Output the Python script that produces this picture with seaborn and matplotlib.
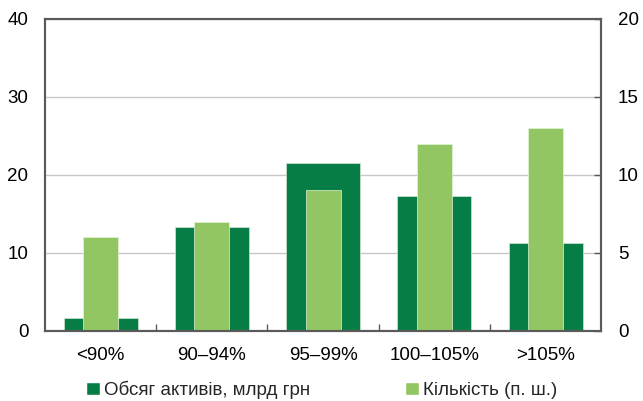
import numpy as np
import pandas as pd
import matplotlib
matplotlib.use("Agg")
import matplotlib.pyplot as plt
import seaborn as sns
from matplotlib.patches import Patch

sns.set_theme(style="white")
plt.rcParams["font.family"] = ["Liberation Sans", "DejaVu Sans"]

CATEGORIES = ["<90%", "90–94%", "95–99%", "100–105%", ">105%"]
ASSETS     = [1.7, 13.3, 21.5, 17.3, 11.3]   # left axis, bn UAH
COUNT      = [6, 7, 9, 12, 13]               # right axis, units
ASSETS_LABEL = "Обсяг активів, млрд грн"
COUNT_LABEL  = "Кількість (п. ш.)"

DARK, LIGHT = "#077D46", "#92C663"
SPINE = "#5a5a5a"

df = pd.DataFrame({"cat": CATEGORIES, "assets": ASSETS, "count": COUNT})

fig = plt.figure(figsize=(6.43, 4.01), dpi=100)
ax = fig.add_axes([0.070, 0.175, 0.865, 0.778])
ax2 = ax.twinx()

sns.barplot(data=df, x="cat", y="assets", color=DARK, width=0.665,
            edgecolor="#cfe6d0", linewidth=0.5, saturation=1, ax=ax)
sns.barplot(data=df, x="cat", y="count", color=LIGHT, width=0.315,
            edgecolor="#e4f1d8", linewidth=0.5, saturation=1, ax=ax2)

ax.set_xlim(-0.5, 4.5)
ax.set_ylim(0, 40)
ax2.set_ylim(0, 20)
ax.set_yticks([0, 10, 20, 30, 40])
ax2.set_yticks([0, 5, 10, 15, 20])
ax.set_axisbelow(True)
ax.yaxis.grid(True, color="#c8c8c8", lw=1)
ax.xaxis.grid(False)
ax.set(xlabel="", ylabel="")
ax2.set(xlabel="", ylabel="")

for a in (ax, ax2):
    for s in a.spines.values():
        s.set_color(SPINE)
        s.set_linewidth(1.5)

ax.tick_params(axis="y", length=0, pad=12, labelsize=13.5, labelcolor="black")
ax2.tick_params(axis="y", direction="in", length=5, width=1, color=SPINE,
                pad=12, labelsize=13.5, labelcolor="black")
ax.tick_params(axis="x", which="major", length=0, pad=12, labelsize=13.5,
               labelcolor="black")
ax.set_xticks(np.arange(0.5, 4.5, 1), minor=True)
ax.tick_params(axis="x", which="minor", direction="in", length=5, width=1,
               color=SPINE, bottom=True)

handles = [Patch(facecolor=DARK, label=ASSETS_LABEL),
           Patch(facecolor=LIGHT, label=COUNT_LABEL)]
fig.legend(handles=handles, loc="center", bbox_to_anchor=(0.5, 0.028), ncol=2,
           frameon=False, fontsize=13.5, handlelength=0.75, handleheight=0.75,
           handletextpad=0.2, columnspacing=5.1, borderaxespad=0)

fig.savefig("out.png", dpi=100)
